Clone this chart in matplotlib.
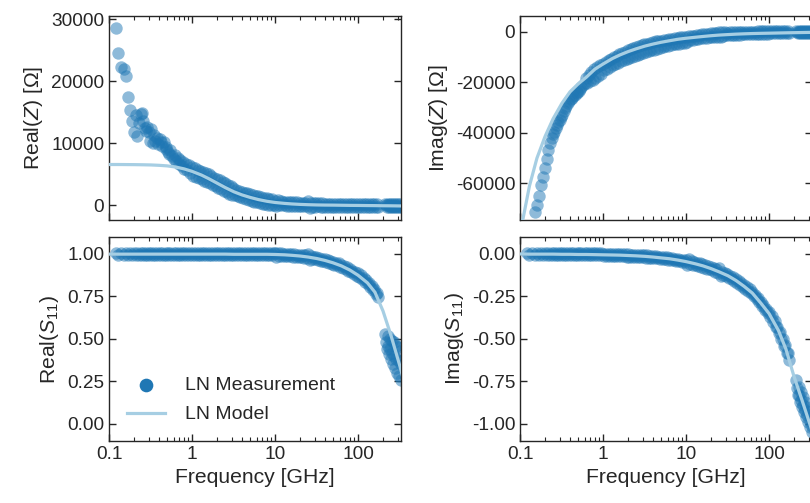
import matplotlib
matplotlib.use('Agg')
import matplotlib.pyplot as plt
from matplotlib.ticker import FixedLocator, FuncFormatter, FormatStrFormatter, LogLocator, NullFormatter

plt.rcParams['font.family'] = ['Liberation Sans', 'DejaVu Sans']
plt.rcParams['mathtext.fontset'] = 'custom'
plt.rcParams['mathtext.rm'] = 'Liberation Sans'
plt.rcParams['mathtext.it'] = 'Liberation Sans:italic'
plt.rcParams['axes.unicode_minus'] = False

# measured points [GHz]
freq_meas = [
    0.12, 0.13, 0.14, 0.15, 0.16, 0.17, 0.18, 0.19, 0.20, 0.21,
    0.22, 0.23, 0.24, 0.25, 0.26, 0.27, 0.28, 0.29, 0.30,
    0.31, 0.32, 0.34, 0.35, 0.36, 0.38, 0.39, 0.41, 0.42, 0.44,
    0.46, 0.48, 0.49, 0.51, 0.53, 0.55, 0.58, 0.60, 0.62, 0.65,
    0.67, 0.70, 0.72, 0.75, 0.78, 0.81, 0.84, 0.88, 0.91, 0.95,
    1.00, 1.04, 1.08, 1.12, 1.17, 1.21, 1.26, 1.31, 1.36, 1.41,
    1.47, 1.53, 1.58, 1.65, 1.71, 1.78, 1.85, 1.92, 2.00, 2.07,
    2.15, 2.24, 2.33, 2.42, 2.51, 2.61, 2.71, 2.82, 2.93, 3.04,
    3.16, 3.29, 3.41, 3.55, 3.69, 3.83, 3.98, 4.14, 4.30, 4.47,
    4.64, 4.82, 5.01, 5.21, 5.41, 5.62, 5.84, 6.07, 6.31, 6.56,
    6.81, 7.08, 7.36, 7.64, 7.94, 8.25, 8.58, 8.91, 9.26, 9.62,
    10.0, 10.4, 10.8, 11.2, 11.7, 12.1, 12.6, 13.1, 13.6, 14.1,
    14.7, 15.3, 15.8, 16.5, 17.1, 17.8, 18.5, 19.2, 20.0, 20.7,
    21.5, 22.4, 23.3, 24.2, 25.1, 26.1, 27.1, 28.2, 29.3, 30.4,
    31.6, 32.9, 34.1, 35.5, 36.9, 38.3, 39.8, 41.4, 43.0, 44.7,
    46.4, 48.2, 50.1, 52.1, 54.1, 56.2, 58.4, 60.7, 63.1, 65.6,
    68.1, 70.8, 73.6, 76.4, 79.4, 82.5, 85.8, 89.1, 92.6, 96.2,
    100, 104, 108, 112, 117, 121, 126, 131, 136, 141,
    147, 153, 158, 165, 171, 176,
    214, 218, 222, 227, 231, 235, 240, 245, 249, 254,
    259, 264, 269, 274, 280, 285, 291, 296, 302, 308,
    314, 320, 326, 332,
]

re_z_meas = [
    28500, 24600, 22300, 22000, 20800, 17400, 15300, 13500, 11800, 14500,
    11100, 13200, 14700, 14800, 13600, 12400, 11900, 12600, 11800,
    10300, 12200, 10000, 11300, 10400, 10800, 9900, 10600, 10200, 9500,
    10100, 9300, 9000, 8600, 8300, 8900, 7900, 7500, 8100, 7100,
    7600, 6700, 7300, 6300, 7000, 5900, 6700, 5600, 6400, 5200,
    6100, 4710, 5920, 4540, 5740, 4360, 5570, 4180, 5370, 3970,
    5150, 3730, 4940, 3500, 4690, 3270, 4450, 3030, 4200, 2790,
    3980, 2550, 3730, 2310, 3490, 2080, 3270, 1860, 3050, 1650,
    2690, 1590, 2510, 1420, 2330, 1250, 2160, 1090, 2020, 950,
    1880, 820, 1750, 690, 1630, 570, 1520, 460, 1400, 350,
    1310, 260, 1220, 170, 1130, 90, 1060, 20, 990, -40,
    730, -120, 900, 50, 640, 0, 580, -30, 540, -60,
    500, -90, 480, -120, 450, -140, 430, -160, 420, -190,
    400, -200, 390, -210, 600, -480, 350, -240, 330, -250,
    280, -220, 270, -230, 265, -235, 260, -240, 255, -245,
    252, -248, 250, -255, 245, -260, 240, -265, 230, -270,
    225, -275, 220, -280, 210, -290, 205, -295, 200, -300,
    200, -300, 200, -300, 195, -305, 190, -310, 190, -310,
    185, -315, 180, -320, 175, -325,
    250, -50, -350, 250, -50, -350, 240, -60, -360, 240,
    -60, -360, 230, -70, -370, 230, -70, -370, 220, -80,
    -380, 220, -80, -380,
]

im_z_meas = [
    -92000, -84000, -77000, -71500, -68500, -65000, -60500, -57500, -54000, -50500,
    -47000, -44000, -42000, -40500, -39500, -38300, -37000, -35800, -34800,
    -33900, -33000, -31500, -30300, -29300, -28200, -27500, -26800, -26200, -25500,
    -24900, -24300, -23900, -23300, -22700, -22000, -21200, -20500, -18300, -20400,
    -17000, -19700, -15900, -19000, -14900, -18300, -14000, -17500, -13100, -16800,
    -12700, -15340, -11990, -14670, -11290, -14010, -10680, -13370, -10070, -12800,
    -9490, -12200, -8980, -11680, -8440, -11180, -7930, -10700, -7360, -10350,
    -6930, -9910, -6490, -9490, -6100, -9100, -5720, -8730, -5350, -8380,
    -5010, -8030, -4680, -7710, -4360, -7410, -4070, -7120, -3780, -6850,
    -3520, -6590, -3660, -5940, -3420, -5710, -3190, -5480, -2970, -5260,
    -2760, -5060, -2570, -4870, -2380, -4690, -2200, -4520, -2030, -4350,
    -2250, -4000, -1700, -3480, -1750, -3260, -1550, -3050, -1360, -2870,
    -1180, -2690, -1030, -2540, -870, -2400, -740, -2280, -610, -2160,
    -510, -2050, -400, -1950, -10, -2170, -230, -1790, -150, -1410,
    -380, -1350, -320, -1280, -260, -1230, -200, -1180, -150, -1130,
    -110, -1090, -70, -1050, -30, -1020, 0, -980, 30, -950,
    60, -930, 90, -900, 110, -880, 130, -860, 150, -840,
    70, -720, 85, -710, 100, -700, 110, -690, 120, -680,
    130, -670, 135, -665, 140, -660,
    200, -200, -600, 210, -190, -590, 220, -180, -580, 230,
    -170, -570, 240, -160, -560, 250, -150, -550, 260, -140,
    -540, 270, -130, -530,
]

re_s_meas = [
    1.005, 0.993, 1.005, 0.993, 1.005, 0.993, 1.005, 0.993, 1.005, 0.993,
    1.005, 0.993, 1.005, 0.993, 1.005, 0.993, 1.005, 0.993, 1.005,
    0.993, 1.005, 0.993, 1.005, 0.993, 1.005, 0.993, 1.005, 0.993, 1.005,
    0.993, 1.005, 0.993, 1.005, 0.993, 1.005, 0.993, 1.005, 0.993, 1.005,
    0.993, 1.005, 0.993, 1.005, 0.993, 1.005, 0.993, 1.005, 0.993, 1.005,
    0.993, 1.005, 0.993, 1.005, 0.993, 1.005, 0.993, 1.005, 0.993, 1.005,
    0.993, 1.005, 0.993, 1.005, 0.993, 1.005, 0.993, 1.005, 0.993, 1.005,
    0.993, 1.005, 0.993, 1.005, 0.993, 1.005, 0.993, 1.005, 0.993, 1.005,
    0.993, 1.005, 0.993, 1.005, 0.993, 1.005, 0.993, 1.005, 0.993, 1.005,
    0.992, 1.004, 0.992, 1.004, 0.992, 1.004, 0.992, 1.004, 0.992, 1.004,
    0.992, 1.004, 0.992, 1.004, 0.992, 1.004, 0.992, 1.004, 0.992, 1.004,
    1.004, 0.985, 1.008, 0.989, 1.003, 0.988, 1.002, 0.988, 1.001, 0.987,
    1.000, 0.986, 0.999, 0.984, 0.998, 0.983, 0.996, 0.982, 0.995, 0.980,
    0.993, 0.978, 0.991, 0.976, 1.000, 0.962, 0.986, 0.970, 0.983, 0.968,
    0.980, 0.964, 0.977, 0.961, 0.973, 0.957, 0.969, 0.953, 0.964, 0.948,
    0.959, 0.943, 0.955, 0.938, 0.949, 0.933, 0.944, 0.926, 0.937, 0.919,
    0.929, 0.911, 0.921, 0.902, 0.912, 0.893, 0.902, 0.883, 0.892, 0.873,
    0.886, 0.864, 0.874, 0.852, 0.860, 0.838, 0.846, 0.822, 0.830, 0.806,
    0.812, 0.786, 0.794, 0.766, 0.772, 0.746,
    0.53, 0.48, 0.44, 0.52, 0.46, 0.41, 0.50, 0.44, 0.38, 0.49,
    0.42, 0.35, 0.48, 0.40, 0.33, 0.46, 0.38, 0.30, 0.45, 0.37,
    0.28, 0.43, 0.35, 0.26,
]

im_s_meas = [
    0.004, -0.008, 0.004, -0.008, 0.004, -0.008, 0.004, -0.008, 0.004, -0.008,
    0.004, -0.008, 0.004, -0.008, 0.004, -0.008, 0.004, -0.008, 0.004,
    -0.008, 0.004, -0.008, 0.004, -0.008, 0.004, -0.008, 0.004, -0.008, 0.004,
    -0.008, 0.004, -0.008, 0.004, -0.008, 0.004, -0.008, 0.004, -0.008, 0.004,
    -0.008, 0.004, -0.008, 0.004, -0.008, 0.004, -0.008, 0.004, -0.008, 0.004,
    0.001, -0.011, 0.001, -0.011, 0.001, -0.011, 0.000, -0.012, 0.000, -0.012,
    -0.001, -0.013, -0.001, -0.013, -0.002, -0.014, -0.002, -0.015, -0.003, -0.015,
    -0.004, -0.016, -0.004, -0.017, -0.005, -0.018, -0.006, -0.019, -0.007, -0.020,
    -0.008, -0.021, -0.009, -0.022, -0.011, -0.023, -0.012, -0.025, -0.013, -0.026,
    -0.015, -0.028, -0.017, -0.029, -0.018, -0.031, -0.020, -0.033, -0.022, -0.036,
    -0.025, -0.038, -0.027, -0.040, -0.030, -0.043, -0.033, -0.046, -0.036, -0.049,
    -0.037, -0.065, -0.031, -0.058, -0.044, -0.062, -0.048, -0.066, -0.052, -0.070,
    -0.056, -0.075, -0.061, -0.080, -0.067, -0.086, -0.072, -0.091, -0.078, -0.097,
    -0.084, -0.104, -0.091, -0.110, -0.085, -0.127, -0.105, -0.125, -0.113, -0.132,
    -0.120, -0.141, -0.129, -0.150, -0.138, -0.159, -0.148, -0.169, -0.158, -0.180,
    -0.170, -0.192, -0.182, -0.205, -0.195, -0.218, -0.208, -0.231, -0.222, -0.247,
    -0.239, -0.264, -0.257, -0.283, -0.280, -0.306, -0.300, -0.327, -0.322, -0.348,
    -0.340, -0.373, -0.366, -0.399, -0.396, -0.430, -0.427, -0.463, -0.460, -0.498,
    -0.499, -0.540, -0.537, -0.582, -0.583, -0.622,
    -0.74, -0.79, -0.83, -0.78, -0.83, -0.87, -0.81, -0.86, -0.90, -0.84,
    -0.89, -0.93, -0.87, -0.92, -0.96, -0.90, -0.95, -0.99, -0.93, -0.98,
    -1.02, -0.96, -1.01, -1.05,
]

# model curve
freq_model = [0.1, 0.13, 0.16, 0.2, 0.25, 0.32, 0.4, 0.5, 0.63, 0.8,
              1.0, 1.3, 1.6, 2.0, 2.5, 3.2, 4.0, 5.0, 6.3, 8.0,
              10, 13, 16, 20, 25, 32, 40, 50, 63, 80,
              100, 130, 160, 200, 250, 320, 340]
re_z_model = [6550, 6550, 6540, 6530, 6510, 6480, 6420, 6330, 6150, 5850,
              5450, 4850, 4250, 3550, 2850, 2150, 1650, 1250, 900, 620,
              430, 280, 190, 120, 70, 30, 10, 0, -20, -40,
              -50, -70, -80, -100, -110, -130, -130]
im_z_model = [-80000, -61000, -50000, -41500, -34500, -28300, -23800, -20700, -18000, -14800,
              -12800, -10600, -9200, -7900, -6800, -5700, -4900, -4200, -3600, -3000,
              -2600, -2200, -1900, -1600, -1350, -1150, -980, -850, -740, -660,
              -600, -520, -460, -400, -340, -280, -270]
re_s_model = [0.999, 0.999, 0.999, 0.999, 0.999, 0.999, 0.999, 0.999, 0.999, 0.999,
              0.999, 0.999, 0.999, 0.999, 0.999, 0.998, 0.998, 0.998, 0.998, 0.998,
              0.997, 0.995, 0.992, 0.988, 0.982, 0.973, 0.962, 0.948, 0.930, 0.905,
              0.875, 0.830, 0.775, 0.665, 0.520, 0.340, 0.290]
im_s_model = [0.000, -0.001, -0.001, -0.001, -0.001, -0.002, -0.002, -0.003, -0.003, -0.004,
              -0.005, -0.006, -0.007, -0.009, -0.011, -0.014, -0.018, -0.023, -0.028, -0.036,
              -0.045, -0.058, -0.070, -0.086, -0.105, -0.128, -0.156, -0.190, -0.230, -0.290,
              -0.350, -0.450, -0.560, -0.720, -0.860, -1.020, -1.060]

meas_color = '#1f77b4'
model_color = '#a6cee3'
text_color = '#262626'

fig = plt.figure(figsize=(8.1, 5.03), dpi=100)
ax1 = fig.add_axes([0.1346, 0.5626, 0.3605, 0.4056])
ax2 = fig.add_axes([0.642, 0.5626, 0.3605, 0.4056])
ax3 = fig.add_axes([0.1346, 0.1233, 0.3605, 0.4056])
ax4 = fig.add_axes([0.642, 0.1233, 0.3605, 0.4056])

panels = [
    (ax1, re_z_meas, re_z_model, 'Real($Z$) [Ω]', (-2400, 30500), [0, 10000, 20000, 30000], '%d'),
    (ax2, im_z_meas, im_z_model, 'Imag($Z$) [Ω]', (-74500, 6200), [-60000, -40000, -20000, 0], '%d'),
    (ax3, re_s_meas, re_s_model, 'Real($S_{11}$)', (-0.1, 1.1), [0, 0.25, 0.5, 0.75, 1.0], '%.2f'),
    (ax4, im_s_meas, im_s_model, 'Imag($S_{11}$)', (-1.1, 0.1), [-1.0, -0.75, -0.5, -0.25, 0], '%.2f'),
]

for ax, meas, model, ylabel, ylim, yticks, yfmt in panels:
    ax.scatter(freq_meas, meas, s=80, color=meas_color, alpha=0.5, linewidths=0,
               label='LN Measurement', zorder=2)
    ax.plot(freq_model, model, color=model_color, lw=2.3, label='LN Model', zorder=3)
    ax.set_xscale('log')
    ax.set_xlim(0.1, 330)
    ax.set_ylim(*ylim)
    ax.xaxis.set_major_locator(FixedLocator([0.1, 1, 10, 100]))
    ax.xaxis.set_major_formatter(FuncFormatter(lambda v, p: '%g' % v))
    ax.xaxis.set_minor_locator(LogLocator(base=10, subs=[2, 3, 4, 5, 6, 7, 8, 9]))
    ax.xaxis.set_minor_formatter(NullFormatter())
    ax.yaxis.set_major_locator(FixedLocator(yticks))
    ax.yaxis.set_major_formatter(FormatStrFormatter(yfmt))
    ax.tick_params(which='both', direction='in', top=True, right=True,
                   color=text_color, labelcolor=text_color, labelsize=13.7)
    ax.tick_params(which='major', length=5, width=1)
    ax.tick_params(which='minor', length=3, width=0.8)
    for sp in ax.spines.values():
        sp.set_color(text_color)
        sp.set_linewidth(1)
    ax.set_ylabel(ylabel, fontsize=15.2, color=text_color)

for ax in (ax1, ax2):
    ax.tick_params(labelbottom=False)
for ax in (ax3, ax4):
    ax.set_xlabel('Frequency [GHz]', fontsize=15.2, color=text_color)

leg = ax3.legend(loc='lower left', frameon=False, fontsize=14, handlelength=2.0,
                 handletextpad=1.0, labelspacing=0.6, markerscale=1.1)
for h in leg.legend_handles:
    h.set_alpha(1)
for t in leg.get_texts():
    t.set_color(text_color)

fig.savefig('out.png', dpi=100)
